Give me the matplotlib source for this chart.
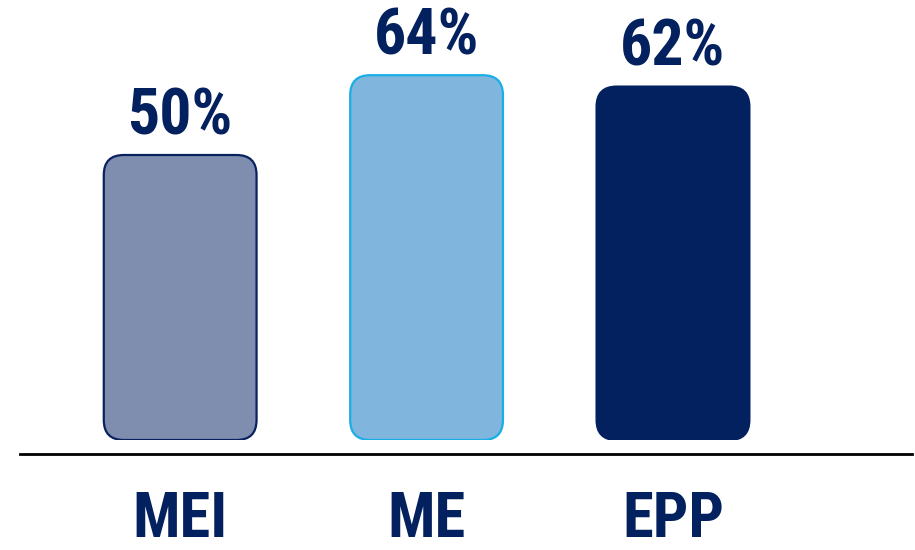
import matplotlib
matplotlib.use('Agg')
import matplotlib.pyplot as plt
from matplotlib.patches import FancyBboxPatch

categories = ['MEI', 'ME', 'EPP']
values = [50, 64, 62]
labels = ['50%', '64%', '62%']
fills = ['#7f8eaf', '#80b6dd', '#03205f']
edges = ['#0a2160', '#19aee6', '#03205f']
navy = '#03205f'
font = ['Roboto Condensed', 'Liberation Sans', 'DejaVu Sans']

fig = plt.figure(figsize=(9.15, 5.5), dpi=100)
ax = fig.add_axes([20 / 915, 110 / 550, 892 / 915, 440 / 550])
ax.set_xlim(-0.65, 2.97)
ax.set_ylim(0, 440 / 5.7)

bars = ax.bar(range(len(categories)), values, width=0.62)

# swap the plain rectangles for rounded boxes of the same size
px_x = ax.transData.transform((1, 0))[0] - ax.transData.transform((0, 0))[0]
px_y = ax.transData.transform((0, 1))[1] - ax.transData.transform((0, 0))[1]
radius = 20 / px_x
for bar, fc, ec in zip(bars, fills, edges):
    bar.set_visible(False)
    box = FancyBboxPatch((bar.get_x(), bar.get_y()), bar.get_width(), bar.get_height(),
                         boxstyle=f'round,pad=0,rounding_size={radius}',
                         mutation_aspect=px_x / px_y,
                         facecolor=fc, edgecolor=ec, linewidth=1.6)
    ax.add_patch(box)

for i, (v, txt) in enumerate(zip(values, labels)):
    ax.annotate(txt, (i, v), xytext=(0, 15), textcoords='offset points',
                ha='center', va='baseline', fontsize=46, fontweight='bold',
                color=navy, family=font)

for s in ['top', 'right', 'left']:
    ax.spines[s].set_visible(False)
ax.spines['bottom'].set_position(('outward', 10))
ax.spines['bottom'].set_linewidth(2)
ax.set_yticks([])
ax.set_xticks(range(len(categories)))
ax.set_xticklabels(categories, fontsize=45, fontweight='bold', color=navy, family=font)
ax.tick_params(axis='x', length=0, pad=26)

fig.savefig('out.png', dpi=100)
